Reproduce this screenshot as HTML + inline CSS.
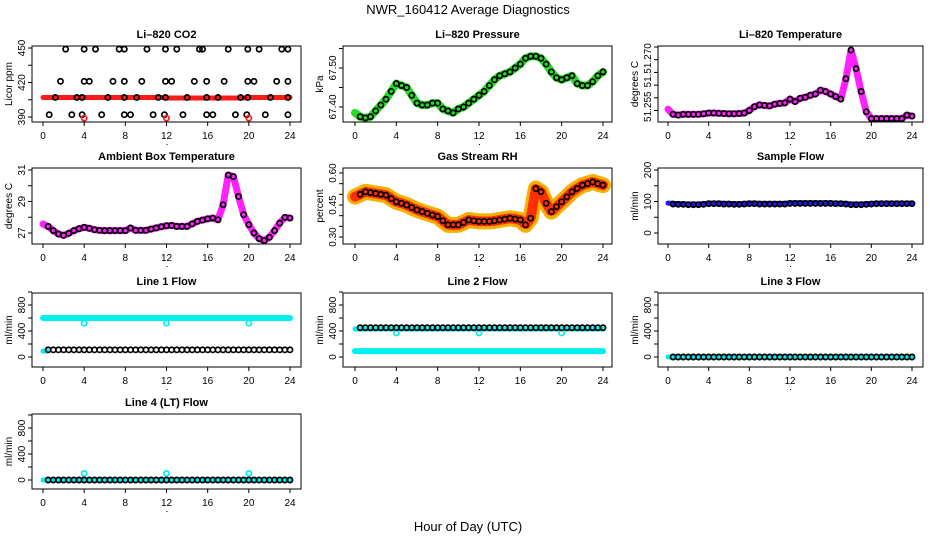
<!DOCTYPE html>
<html><head><meta charset="utf-8"><style>
html,body{margin:0;padding:0;background:#fff;}
svg{display:block;font-family:"Liberation Sans",sans-serif;}
</style></head><body>
<svg id="chart" width="936" height="540" viewBox="0 0 936 540" xmlns="http://www.w3.org/2000/svg">
<rect width="936" height="540" fill="#fff"/>
<text x="468" y="14" text-anchor="middle" font-size="13">NWR_160412  Average Diagnostics</text>
<text x="468" y="531" text-anchor="middle" font-size="13">Hour of Day (UTC)</text>
<g id="plots"></g>
</svg>
<script>
// ---------- data ----------
const hours = [0,0.5,1,1.5,2,2.5,3,3.5,4,4.5,5,5.5,6,6.5,7,7.5,8,8.5,9,9.5,10,10.5,11,11.5,12,12.5,13,13.5,14,14.5,15,15.5,16,16.5,17,17.5,18,18.5,19,19.5,20,20.5,21,21.5,22,22.5,23,23.5,24];
const xTicks = [0,4,8,12,16,20,24];

const co2Band = [407,407,407,407,407,407,407,407,407,407,407,407,407,407,407,407,407,407,407,407,407,407,407,407,406.5,406.5,406.5,406.5,406.5,406.5,406.5,406.5,406.5,406.5,406.5,406.5,406.5,406.5,406.5,406.5,407,407,407,407,407,407,407,407,407];
const co2AvgTimes = [2.2,4,5.1,7.4,7.9,10.1,11.9,13,15.2,15.5,18,19.9,21,23.2,23.8, 1.7,4,4.5,6.8,7.9,9.6,11.9,12.5,14.7,15.9,17.6,19.9,20.5,22.7,23.8, 1.2,3.3,3.8,6.3,7.9,9.1,11.2,11.9,14,15.9,17,19.2,19.9,22.1,23.8, 0.6,2.8,3.8,5.7,7.9,8.5,10.7,11.8,13.6,15.9,16.5,18.7,19.8,21.6,23.8];
const co2AvgValues = [449,449,449,449,449,449,449,449,449,449,449,449,449,449,449, 421,421,421,421,421,421,421,421,421,421,421,421,421,421,421, 407,407,407,407,407,407,407,407,407,407,407,407,407,407,407, 392,392,392,392,392,392,392,392,392,392,392,392,392,392,392];
const co2OutTimes = [4,12,20];
const co2OutValues = [389,389,389];

const pressure = [67.385,67.375,67.372,67.375,67.39,67.405,67.42,67.44,67.46,67.455,67.45,67.43,67.41,67.405,67.405,67.41,67.41,67.395,67.39,67.385,67.395,67.40,67.41,67.42,67.43,67.44,67.455,67.47,67.48,67.485,67.49,67.50,67.51,67.525,67.53,67.53,67.525,67.51,67.49,67.475,67.47,67.475,67.48,67.46,67.455,67.455,67.465,67.48,67.49];

const licorTemp = [51.2505,51.2485,51.2482,51.2485,51.2485,51.2485,51.2485,51.2487,51.249,51.249,51.2489,51.2488,51.2487,51.2487,51.2488,51.249,51.250,51.2515,51.2522,51.252,51.2518,51.2525,51.2528,51.253,51.2545,51.2535,51.2548,51.2552,51.256,51.2565,51.258,51.2575,51.2565,51.2555,51.2545,51.2625,51.2738,51.2665,51.2575,51.2495,51.2468,51.2468,51.2468,51.2468,51.2468,51.2468,51.2468,51.2482,51.2478];

const ambient = [27.57,27.42,27.15,26.94,26.85,26.98,27.15,27.27,27.36,27.3,27.21,27.17,27.15,27.15,27.15,27.15,27.15,27.32,27.17,27.17,27.17,27.25,27.32,27.4,27.46,27.48,27.42,27.42,27.42,27.58,27.74,27.82,27.9,27.95,27.84,28.79,30.68,30.58,29.32,28.16,27.53,27.0,26.64,26.52,26.73,27.15,27.63,27.99,27.95];

const rh = [0.489,0.50,0.512,0.508,0.504,0.50,0.496,0.48,0.465,0.458,0.45,0.438,0.427,0.419,0.411,0.403,0.396,0.376,0.357,0.357,0.357,0.368,0.38,0.376,0.373,0.373,0.373,0.376,0.38,0.384,0.388,0.384,0.38,0.357,0.388,0.527,0.512,0.458,0.419,0.442,0.465,0.488,0.512,0.528,0.543,0.55,0.558,0.55,0.543];

const sampleFlow = [95,94,93,93,92,92,92,93,95,95,95,94,94,93,93,94,95,95,94,94,94,94,94,94,96,96,96,96,96,96,96,96,96,95,95,94,92,92,92,93,94,95,95,95,95,95,95,95,95];

const line1High = 600, line1Low = 110, line1Out = 520;
const line2High = 430, line2Avg = 450, line2Low = 90, line2Out = 370;
const line3Value = 0;
const line4Value = 0, line4Out = 100;
const outTimes = [4,12,20];

// ---------- layout ----------
const cols = [{l:32,r:301,x0:43,x24:290},{l:343,r:612,x0:355,x24:603},{l:658,r:923,x0:668,x24:912}];
const rows = [{t:46,b:122},{t:168,b:244},{t:293,b:367},{t:414,b:489}];
const NS = "http://www.w3.org/2000/svg";
const root = document.getElementById('plots');
function mk(tag, attrs, parent){ const e=document.createElementNS(NS,tag); for(const k in attrs) e.setAttribute(k,attrs[k]); (parent||root).appendChild(e); return e; }

function panel(cfg){
  const c = cols[cfg.col], r = rows[cfg.row];
  const g = mk('g',{});
  
  
  const xs = t => c.x0 + (c.x24 - c.x0) * t / 24;
  const ys = v => cfg.y1 + (cfg.y2 - cfg.y1) * (v - cfg.v1) / (cfg.v2 - cfg.v1);
  const t = mk('text',{x:(c.l+c.r)/2, y:r.t-8, 'text-anchor':'middle','font-size':'11','font-weight':'bold'}, g);
  t.textContent = cfg.title;
  
  
  const yl = mk('text',{x:0,y:0,transform:`translate(${c.l-20},${(r.t+r.b)/2}) rotate(-90)`,'text-anchor':'middle','font-size':'10'}, g);
  yl.textContent = cfg.ylab;
  
  
  const xa = mk('g',{}, g);
  
  
  xTicks.forEach(v=>{
    mk('line',{x1:xs(v),x2:xs(v),y1:r.b,y2:r.b+4,stroke:'#000','stroke-width':1}, xa);
    const tl = mk('text',{x:xs(v),y:r.b+17,'text-anchor':'middle','font-size':'10'}, xa);
    tl.textContent = v;
  });
  mk('rect',{x:(c.x0+c.x24)/2,y:r.b+22,width:1,height:1,fill:'#000'}, xa);
  const ya = mk('g',{}, g);
  
  
  cfg.yTicks.forEach(v=>{
    const y = ys(v);
    if (y < r.t-1 || y > r.b+1) return;
    mk('line',{x1:c.l-4,x2:c.l,y1:y,y2:y,stroke:'#000','stroke-width':1}, ya);
  });
  cfg.yLabels.forEach((lab,i)=>{
    const y = ys(cfg.yLabelVals[i]);
    const tl = mk('text',{x:0,y:0,transform:`translate(${c.l-7},${y}) rotate(-90)`,'text-anchor':'middle','font-size':'10'}, ya);
    tl.textContent = lab;
  });
  const cid = 'clip-' + cfg.name;
  const cp = mk('clipPath',{id:cid}, g);
  mk('rect',{x:c.l,y:r.t,width:c.r-c.l,height:r.b-r.t}, cp);
  const pg = mk('g',{'clip-path':`url(#${cid})`}, g);
  cfg.draw(pg, xs, ys);
  const box = mk('rect',{x:c.l,y:r.t,width:c.r-c.l,height:r.b-r.t,fill:'none',stroke:'#000','stroke-width':1}, g);
  
  
}
function band(pg, xs, ys, times, vals, color, w, name){
  const p = mk('polyline',{points: times.map((t,i)=>xs(t)+','+ys(vals[i])).join(' '), fill:'none', stroke:color, 'stroke-width':w, 'stroke-linejoin':'round','stroke-linecap':'round'}, pg);
  
  
  return p;
}
function pts(pg, xs, ys, times, vals, color, name, rr){
  const g = mk('g',{}, pg);
  
  
  times.forEach((t,i)=>{
    const c = mk('circle',{cx:xs(t),cy:ys(vals[i]),r:rr||2.6,fill:'none',stroke:color,'stroke-width':1.7}, g);
    
    
  });
}
const avgHours = hours.slice(1);
const constArr = (v,n)=>hours.slice(0,n).map(()=>v);

panel({name:'co2',col:0,row:0,title:'Li\u2013820 CO2',ylab:'Licor ppm',v1:390,y1:117,v2:450,y2:48,
  yTicks:[390,405,420,435,450],yLabels:['390','420','450'],yLabelVals:[390,420,450],
  draw:(pg,xs,ys)=>{ band(pg,xs,ys,hours,co2Band,'#ff1a1a',5,'co2-raw-band');
    pts(pg,xs,ys,co2AvgTimes,co2AvgValues,'#000','co2-averages');
    pts(pg,xs,ys,co2OutTimes,co2OutValues,'#ff1a1a','co2-outliers'); }});

panel({name:'pressure',col:1,row:0,title:'Li\u2013820 Pressure',ylab:'kPa',v1:67.40,y1:107,v2:67.50,y2:68,
  yTicks:[67.35,67.40,67.45,67.50,67.55],yLabels:['67.40','67.50'],yLabelVals:[67.40,67.50],
  draw:(pg,xs,ys)=>{ band(pg,xs,ys,hours,pressure,'#22dd22',8,'pressure-raw-band');
    pts(pg,xs,ys,avgHours,pressure.slice(1),'#000','pressure-averages'); }});

panel({name:'licor-temp',col:2,row:0,title:'Li\u2013820 Temperature',ylab:'degrees C',v1:51.270,y1:59.7,v2:51.275,y2:47,
  yTicks:[51.250,51.255,51.260,51.265,51.270,51.275],yLabels:['51.255','51.','51.270'],yLabelVals:[51.2515,51.2618,51.2705],
  draw:(pg,xs,ys)=>{ band(pg,xs,ys,hours,licorTemp,'#ff22ff',7,'licor-temp-raw-band');
    pts(pg,xs,ys,avgHours,licorTemp.slice(1),'#000','licor-temp-averages'); }});

panel({name:'ambient-temp',col:0,row:1,title:'Ambient Box Temperature',ylab:'degrees C',v1:27,y1:233,v2:31,y2:170,
  yTicks:[27,28,29,30,31],yLabels:['27','29','31'],yLabelVals:[27,29,31],
  draw:(pg,xs,ys)=>{ band(pg,xs,ys,hours,ambient,'#ff22ff',7,'ambient-temp-raw-band');
    pts(pg,xs,ys,avgHours,ambient.slice(1),'#000','ambient-temp-averages'); }});

panel({name:'gas-rh',col:1,row:1,title:'Gas Stream RH',ylab:'percent',v1:0.30,y1:237,v2:0.60,y2:173,
  yTicks:[0.30,0.35,0.40,0.45,0.50,0.55,0.60],yLabels:['0.30','0.45','0.60'],yLabelVals:[0.30,0.45,0.60],
  draw:(pg,xs,ys)=>{ band(pg,xs,ys,hours,rh,'#f7b000',16,'rh-raw-band');
    band(pg,xs,ys,hours,rh,'#ff3000',10,'rh-raw-band-dots').setAttribute('stroke-dasharray','1 3');
    pts(pg,xs,ys,avgHours,rh.slice(1),'#000','rh-averages'); }});

panel({name:'sample-flow',col:2,row:1,title:'Sample Flow',ylab:'ml/min',v1:0,y1:233,v2:200,y2:170,
  yTicks:[0,50,100,150,200],yLabels:['0','100','200'],yLabelVals:[0,100,200],
  draw:(pg,xs,ys)=>{ band(pg,xs,ys,hours,sampleFlow,'#1a1aee',5,'sample-flow-raw-band');
    pts(pg,xs,ys,avgHours,sampleFlow.slice(1).map(v=>v-2),'#000','sample-flow-averages'); }});

const flowTicks=[0,200,400,600,800,1000], flowLabels=['0','400','800'], flowLabelVals=[0,400,800];
panel({name:'line1-flow',col:0,row:2,title:'Line 1 Flow',ylab:'ml/min',v1:0,y1:357,v2:800,y2:305,
  yTicks:flowTicks,yLabels:flowLabels,yLabelVals:flowLabelVals,
  draw:(pg,xs,ys)=>{ band(pg,xs,ys,hours,constArr(line1High,49),'#00f0f0',6,'line1-raw-band');
    band(pg,xs,ys,[0,0.4],[line1Low-20,line1Low-20],'#00f0f0',5,'line1-low-band');
    pts(pg,xs,ys,outTimes,outTimes.map(()=>line1Out),'#00f0f0','line1-outliers');
    pts(pg,xs,ys,avgHours,constArr(line1Low,48),'#000','line1-averages'); }});

panel({name:'line2-flow',col:1,row:2,title:'Line 2 Flow',ylab:'ml/min',v1:0,y1:357,v2:800,y2:305,
  yTicks:flowTicks,yLabels:flowLabels,yLabelVals:flowLabelVals,
  draw:(pg,xs,ys)=>{ band(pg,xs,ys,hours,constArr(line2High,49),'#00f0f0',5,'line2-raw-band');
    band(pg,xs,ys,hours,constArr(line2Low,49),'#00f0f0',6,'line2-low-band');
    pts(pg,xs,ys,outTimes,outTimes.map(()=>line2Out),'#00f0f0','line2-outliers');
    pts(pg,xs,ys,avgHours,constArr(line2Avg,48),'#000','line2-averages'); }});

panel({name:'line3-flow',col:2,row:2,title:'Line 3 Flow',ylab:'ml/min',v1:0,y1:357,v2:800,y2:305,
  yTicks:flowTicks,yLabels:flowLabels,yLabelVals:flowLabelVals,
  draw:(pg,xs,ys)=>{ band(pg,xs,ys,hours,constArr(line3Value,49),'#00f0f0',5,'line3-raw-band');
    pts(pg,xs,ys,avgHours,constArr(line3Value,48),'#000','line3-averages'); }});

panel({name:'line4-flow',col:0,row:3,title:'Line 4 (LT) Flow',ylab:'ml/min',v1:0,y1:480,v2:800,y2:428,
  yTicks:flowTicks,yLabels:flowLabels,yLabelVals:flowLabelVals,
  draw:(pg,xs,ys)=>{ band(pg,xs,ys,hours,constArr(line4Value,49),'#00f0f0',5,'line4-raw-band');
    pts(pg,xs,ys,outTimes,outTimes.map(()=>line4Out),'#00f0f0','line4-outliers');
    pts(pg,xs,ys,avgHours,constArr(line4Value,48),'#000','line4-averages'); }});
</script>
</body></html>
